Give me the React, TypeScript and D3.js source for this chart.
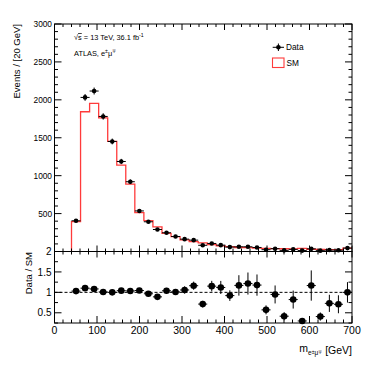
import React from "react";
import * as d3 from "d3";

// Bin edges in GeV (31 bins between 40 and 700 GeV)
const binEdges = [
  40, 61.3, 82.6, 103.9, 125.2, 146.5, 167.7, 189.0, 210.3, 231.6, 252.9,
  274.2, 295.5, 316.8, 338.1, 359.4, 380.6, 401.9, 423.2, 444.5, 465.8,
  487.1, 508.4, 529.7, 551.0, 572.3, 593.5, 614.8, 636.1, 657.4, 678.7, 700,
];

// Standard Model prediction (events / bin)
const smValues = [
  393, 1843, 1953, 1763, 1451, 1140, 889, 512, 406, 326, 238, 196, 154, 129,
  115, 92, 75, 63, 53, 51, 45, 42, 39, 36, 34, 40, 30, 27, 26, 24, 45,
];

// Observed data (events / bin)
const dataValues = [
  405, 2032, 2116, 1781, 1451, 1187, 920, 535, 392, 290, 247, 198, 163, 150,
  82, 106, 84, 58, 62, 62, 53, 24, 37, 15, 28, 12, 35, 11, 19, 17, 45,
];

// Uncertainty on Data / SM ratio
const ratioErrors = [
  0.04, 0.025, 0.025, 0.025, 0.03, 0.03, 0.035, 0.045, 0.05, 0.06, 0.07, 0.07,
  0.09, 0.1, 0.08, 0.13, 0.16, 0.13, 0.25, 0.27, 0.26, 0.11, 0.22, 0.1, 0.22,
  0.06, 0.37, 0.1, 0.21, 0.22, 0.25,
];

const yTickValues = [500, 1000, 1500, 2000, 2500, 3000];
const ratioMajorTicks = [0.5, 1, 1.5, 2];
const ratioMinorTicks = [0.25, 0.75, 1.25, 1.75];
const ratioTickLabels = ["0.5", "1", "1.5", "2"];
const xTickValues = [0, 100, 200, 300, 400, 500, 600, 700];

const W = 391;
const H = 375;
const L = 54.5;
const R = 352;
const T = 24;
const B1 = 251.5;
const B2 = 323;
const FONT = "'Liberation Sans', Arial, Helvetica, sans-serif";
const RED = "#ff3b3b";

export default function App() {
  const x = d3.scaleLinear().domain([0, 700]).range([L, R]);
  const y = d3.scaleLinear().domain([0, 3000]).range([B1, T]);
  const yr = d3.scaleLinear().domain([0.25, 2]).range([B2, B1]);

  const xMinor = d3.range(0, 701, 20);
  const yMinor = d3.range(0, 3001, 100);

  const stepPts: [number, number][] = [[binEdges[0], 0]];
  smValues.forEach((v, i) => stepPts.push([binEdges[i], v]));
  stepPts.push([binEdges[binEdges.length - 1], smValues[smValues.length - 1]]);
  const stepLine = d3
    .line<[number, number]>()
    .x((d) => x(d[0]))
    .y((d) => y(d[1]))
    .curve(d3.curveStepAfter);

  const bins = smValues.map((sm, i) => {
    const lo = binEdges[i];
    const hi = binEdges[i + 1];
    const c = (lo + hi) / 2;
    const d = dataValues[i];
    const err = Math.sqrt(d);
    return { lo, hi, c, d, sm, err, r: d / sm, rErr: ratioErrors[i] };
  });

  const tick = (key: string, x1: number, y1: number, x2: number, y2: number) => (
    <line key={key} x1={x1} y1={y1} x2={x2} y2={y2} stroke="#000" strokeWidth={1} />
  );

  return (
    <svg
      width={W}
      height={H}
      style={{ position: "absolute", left: 0, top: 0, background: "#fff" }}
      fontFamily={FONT}
    >
      <rect x={0} y={0} width={W} height={H} fill="#fff" />

      {/* ---------- Upper panel ---------- */}
      <path d={stepLine(stepPts) || ""} fill="none" stroke={RED} strokeWidth={1.3} />

      {/* data points */}
      {bins.map((b, i) => (
        <g key={"dp" + i}>
          <line x1={x(b.lo)} x2={x(b.hi)} y1={y(b.d)} y2={y(b.d)} stroke="#000" strokeWidth={1} />
          <line x1={x(b.c)} x2={x(b.c)} y1={y(b.d - b.err)} y2={y(b.d + b.err)} stroke="#000" strokeWidth={1} />
          <circle cx={x(b.c)} cy={y(b.d)} r={2.3} fill="#000" />
        </g>
      ))}

      {/* ticks upper */}
      {yMinor.map((v) => {
        const major = v % 500 === 0;
        const len = major ? 7 : 3.5;
        return (
          <g key={"yt" + v}>
            {tick("l", L, y(v), L + len, y(v))}
            {tick("r", R, y(v), R - len, y(v))}
          </g>
        );
      })}
      {xMinor.map((v) => {
        const major = v % 100 === 0;
        const len = major ? 6 : 3;
        return (
          <g key={"xt" + v}>
            {tick("t", x(v), T, x(v), T + len)}
            {tick("b", x(v), B1, x(v), B1 - len)}
            {tick("lt", x(v), B1, x(v), B1 + len)}
            {tick("lb", x(v), B2, x(v), B2 - (major ? 7 : 3.5))}
          </g>
        );
      })}
      <rect x={L} y={T} width={R - L} height={B1 - T} fill="none" stroke="#000" strokeWidth={1} />

      {yTickValues.map((v) => (
        <text key={"yl" + v} x={L - 2.5} y={y(v) + 3} fontSize={8.3} textAnchor="end" fill="#000">
          {v}
        </text>
      ))}

      {/* labels upper */}
      <text x={74} y={40} fontSize={7.4} fill="#000">
        √<tspan style={{ textDecoration: "overline" }}>s</tspan> = 13 TeV, 36.1 fb
        <tspan dy={-3} fontSize={5.2}>-1</tspan>
      </text>
      <text x={74} y={56} fontSize={7.4} fill="#000">
        ATLAS, e<tspan dy={-3} fontSize={5.2}>±</tspan>
        <tspan dy={3}>μ</tspan>
        <tspan dy={-3} fontSize={5.2}>∓</tspan>
      </text>

      {/* legend */}
      <line x1={272.7} x2={284} y1={47.3} y2={47.3} stroke="#000" strokeWidth={1} />
      <line x1={278.4} x2={278.4} y1={43.5} y2={51} stroke="#000" strokeWidth={1} />
      <circle cx={278.4} cy={47.3} r={2.3} fill="#000" />
      <text x={286} y={50} fontSize={8.3} fill="#000">Data</text>
      <rect x={272.5} y={58} width={11.5} height={9.5} fill="#fff" stroke={RED} strokeWidth={1.1} />
      <text x={286.5} y={66} fontSize={8.3} fill="#000">SM</text>

      <text
        transform={`translate(19.5,24) rotate(-90)`}
        textAnchor="end"
        fontSize={9.5}
        fill="#000"
      >
        Events / [20 GeV]
      </text>

      {/* ---------- Lower panel ---------- */}
      <line x1={L} x2={R} y1={yr(1)} y2={yr(1)} stroke="#000" strokeWidth={1} strokeDasharray="3,2" />
      {bins.map((b, i) => {
        const lo = Math.max(b.r - b.rErr, 0.25);
        const hi = Math.min(b.r + b.rErr, 2);
        return (
          <g key={"rp" + i}>
            <line x1={x(b.lo)} x2={x(b.hi)} y1={yr(b.r)} y2={yr(b.r)} stroke="#000" strokeWidth={1} />
            <line x1={x(b.c)} x2={x(b.c)} y1={yr(lo)} y2={yr(hi)} stroke="#000" strokeWidth={1} />
            <circle cx={x(b.c)} cy={yr(b.r)} r={3.3} fill="#000" />
          </g>
        );
      })}
      {ratioMajorTicks.map((v) => (
        <g key={"rmt" + v}>
          {tick("l", L, yr(v), L + 7, yr(v))}
          {tick("r", R, yr(v), R - 7, yr(v))}
        </g>
      ))}
      {ratioMinorTicks.map((v) => (
        <g key={"rnt" + v}>
          {tick("l", L, yr(v), L + 3.5, yr(v))}
          {tick("r", R, yr(v), R - 3.5, yr(v))}
        </g>
      ))}
      <rect x={L} y={B1} width={R - L} height={B2 - B1} fill="none" stroke="#000" strokeWidth={1} />

      {ratioMajorTicks.map((v, i) => (
        <text key={"rl" + v} x={L - 3} y={yr(v) + 3.6} fontSize={10} textAnchor="end" fill="#000">
          {ratioTickLabels[i]}
        </text>
      ))}
      {xTickValues.map((v) => (
        <text key={"xl" + v} x={x(v)} y={334} fontSize={10.5} textAnchor="middle" fill="#000">
          {v}
        </text>
      ))}

      <text
        transform={`translate(31.5,252) rotate(-90)`}
        textAnchor="end"
        fontSize={9.5}
        fill="#000"
      >
        Data / SM
      </text>

      <text x={352} y={352} fontSize={10.5} textAnchor="end" fill="#000">
        m<tspan dy={3} fontSize={6.5}>e</tspan>
        <tspan dy={-1.5} fontSize={5}>±</tspan>
        <tspan dy={1.5} fontSize={6.5}>μ</tspan>
        <tspan dy={-1.5} fontSize={5}>∓</tspan>
        <tspan dy={0} fontSize={10.5}> [GeV]</tspan>
      </text>
    </svg>
  );
}
